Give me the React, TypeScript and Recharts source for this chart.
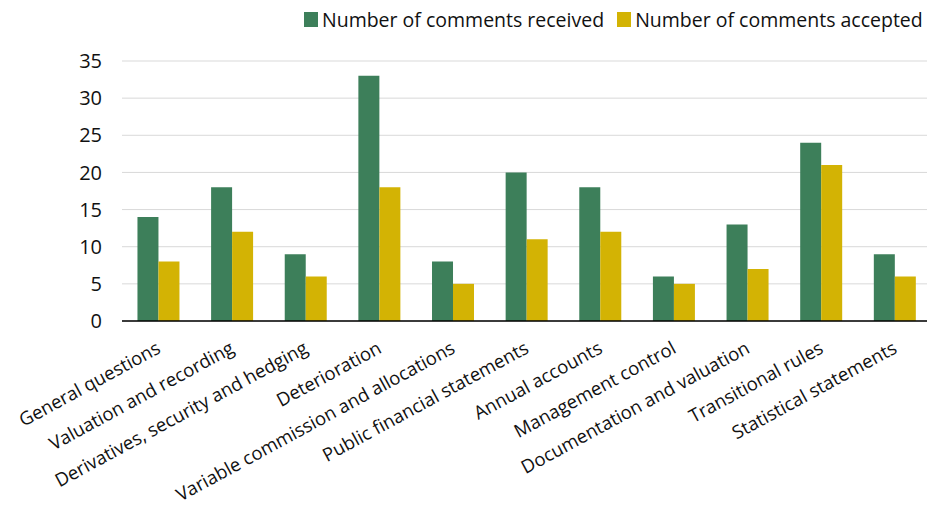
import React from "react"
import { BarChart, Bar, XAxis, YAxis, CartesianGrid, Legend } from "recharts"

const categories = [
  "General questions",
  "Valuation and recording",
  "Derivatives, security and hedging",
  "Deterioration",
  "Variable commission and allocations",
  "Public financial statements",
  "Annual accounts",
  "Management control",
  "Documentation and valuation",
  "Transitional rules",
  "Statistical statements",
]
const received = [14, 18, 9, 33, 8, 20, 18, 6, 13, 24, 9]
const accepted = [8, 12, 6, 18, 5, 11, 12, 5, 7, 21, 6]
const yTicks = [0, 5, 10, 15, 20, 25, 30, 35]

const GREEN = "#3d7f5a"
const YELLOW = "#d3b304"
const FONT = "'Open Sans', sans-serif"

const data = categories.map((name, i) => ({
  name,
  received: received[i],
  accepted: accepted[i],
}))

function AngledTick(props: any) {
  const { x, y, payload } = props
  return (
    <g transform={`translate(${x + 3},${y + 31})`}>
      <text transform="rotate(-28.5)" textAnchor="end" fontSize={18.5} fill="#111" fontFamily={FONT}>
        {payload.value}
      </text>
    </g>
  )
}

function TopLegend() {
  const items = [
    { label: "Number of comments received", color: GREEN },
    { label: "Number of comments accepted", color: YELLOW },
  ]
  return (
    <div style={{ display: "flex", gap: 13, fontFamily: FONT, fontSize: 19.5, color: "#111", height: 26, whiteSpace: "nowrap" }}>
      {items.map((it) => (
        <div key={it.label} style={{ display: "flex", alignItems: "center", gap: 4 }}>
          <span style={{ width: 14, height: 15, background: it.color, display: "inline-block" }} />
          <span>{it.label}</span>
        </div>
      ))}
    </div>
  )
}

export default function App() {
  return (
    <BarChart
      width={927}
      height={508}
      data={data}
      margin={{ top: 27, right: 3, left: 0, bottom: 0 }}
      barCategoryGap="21%"
      barGap={0}
    >
      <CartesianGrid vertical={false} stroke="#d9d9d9" />
      <Legend
        verticalAlign="top"
        content={<TopLegend />}
        wrapperStyle={{ top: -2, left: 296, width: 640 }}
      />
      <XAxis
        dataKey="name"
        interval={0}
        tickLine={false}
        tickSize={0}
        tickMargin={0}
        height={195}
        axisLine={{ stroke: "#000", strokeWidth: 1.5 }}
        tick={<AngledTick />}
      />
      <YAxis
        width={114}
        domain={[0, 35]}
        ticks={yTicks}
        axisLine={false}
        tickLine={false}
        tickSize={0}
        tickMargin={20}
        tick={{ fontSize: 20, fill: "#111", fontFamily: FONT }}
      />
      <Bar dataKey="received" fill={GREEN} isAnimationActive={false} />
      <Bar dataKey="accepted" fill={YELLOW} isAnimationActive={false} />
    </BarChart>
  )
}
